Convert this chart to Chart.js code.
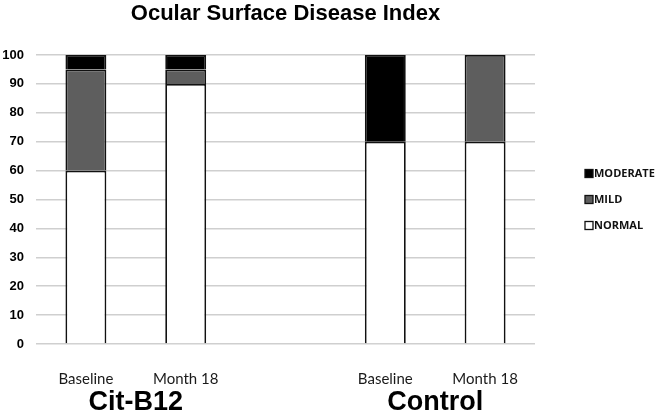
<!DOCTYPE html>
<html>
<head>
<meta charset="utf-8">
<script src="https://cdn.jsdelivr.net/npm/chart.js@4.4.1/dist/chart.umd.min.js"></script>
<style>
  html, body { margin: 0; padding: 0; background: #fff; }
  #wrap { width: 657px; height: 414px; }
</style>
</head>
<body>
<div id="wrap"><canvas id="osdiChart" width="657" height="414"></canvas></div>
<script>
// ----- Data -----
const categories = ['Baseline', 'Month 18', '', 'Baseline', 'Month 18'];
const groups = ['Cit-B12', 'Control'];
const normalVals = [60, 90, null, 70, 70];
const mildVals = [35, 5, null, 0, 30];
const moderateVals = [5, 5, null, 30, 0];
const yTicks = [0, 10, 20, 30, 40, 50, 60, 70, 80, 90, 100];

const titleText = 'Ocular Surface Disease Index';

// ----- Extra text: title, group names, legend -----
const extras = {
    id: 'extras',
    afterDraw(chart) {
        const c = chart.ctx;
        const area = chart.chartArea;
        const x = chart.scales.x;
        c.save();
        c.fillStyle = '#000';
        c.textAlign = 'center';
        c.textBaseline = 'middle';

        c.font = 'bold 22px "Liberation Sans", Arial, sans-serif';
        c.fillText(titleText, (area.left + area.right) / 2, 14);

        c.font = 'bold 27px "Liberation Sans", Arial, sans-serif';
        c.fillText(groups[0], x.getPixelForValue(0.5), 403);
        c.fillText(groups[1], x.getPixelForValue(3.5), 403);

        // legend, top item is last dataset
        const mid = (area.top + area.bottom) / 2;
        const ds = chart.data.datasets.slice().reverse();
        c.font = 'bold 11px "Open Sans", Lato, sans-serif';
        c.textAlign = 'left';
        ds.forEach((d, i) => {
            const y = mid + (i - 1) * 26;
            c.fillStyle = d.backgroundColor;
            c.fillRect(585, y - 4, 8, 8);
            c.strokeStyle = '#111';
            c.lineWidth = 1.3;
            c.strokeRect(585, y - 4, 8, 8);
            c.fillStyle = '#111';
            c.fillText(d.label, 594, y + 0.5);
        });
        c.restore();
    }
};

const ctx = document.getElementById('osdiChart').getContext('2d');
const osdiChart = new Chart(ctx, {
    type: 'bar',
    data: {
        labels: categories,
        datasets: [
            { label: 'NORMAL', data: normalVals, backgroundColor: '#ffffff' },
            { label: 'MILD', data: mildVals, backgroundColor: '#5e5e5e' },
            { label: 'MODERATE', data: moderateVals, backgroundColor: '#000000' }
        ].map(d => Object.assign(d, {
            borderColor: '#111111',
            borderWidth: 1.8,
            borderSkipped: 'start',
            categoryPercentage: 1,
            barPercentage: 0.41
        }))
    },
    options: {
        responsive: false,
        animation: false,
        layout: { padding: { top: 55, right: 122, left: 0, bottom: 0 } },
        plugins: {
            legend: { display: false },
            title: { display: false },
            tooltip: { enabled: false }
        },
        scales: {
            x: {
                stacked: true,
                grid: { display: false, drawTicks: false },
                border: { display: false },
                ticks: {
                    padding: 26,
                    color: '#1a1a1a',
                    font: { family: 'Lato, "Open Sans", sans-serif', size: 15 },
                    maxRotation: 0,
                    autoSkip: false
                },
                afterFit(scale) { scale.height = 70; }
            },
            y: {
                stacked: true,
                min: 0,
                max: 100,
                afterBuildTicks(scale) { scale.ticks = yTicks.map(v => ({ value: v })); },
                grid: { color: '#cfcfcf', lineWidth: 1.5, drawTicks: false },
                border: { display: false },
                ticks: {
                    padding: 12,
                    color: '#000',
                    font: { family: '"Liberation Sans", Arial, sans-serif', size: 13, weight: 'bold' }
                },
                afterFit(scale) { scale.width = 36; }
            }
        }
    },
    plugins: [extras]
});
</script>
</body>
</html>
